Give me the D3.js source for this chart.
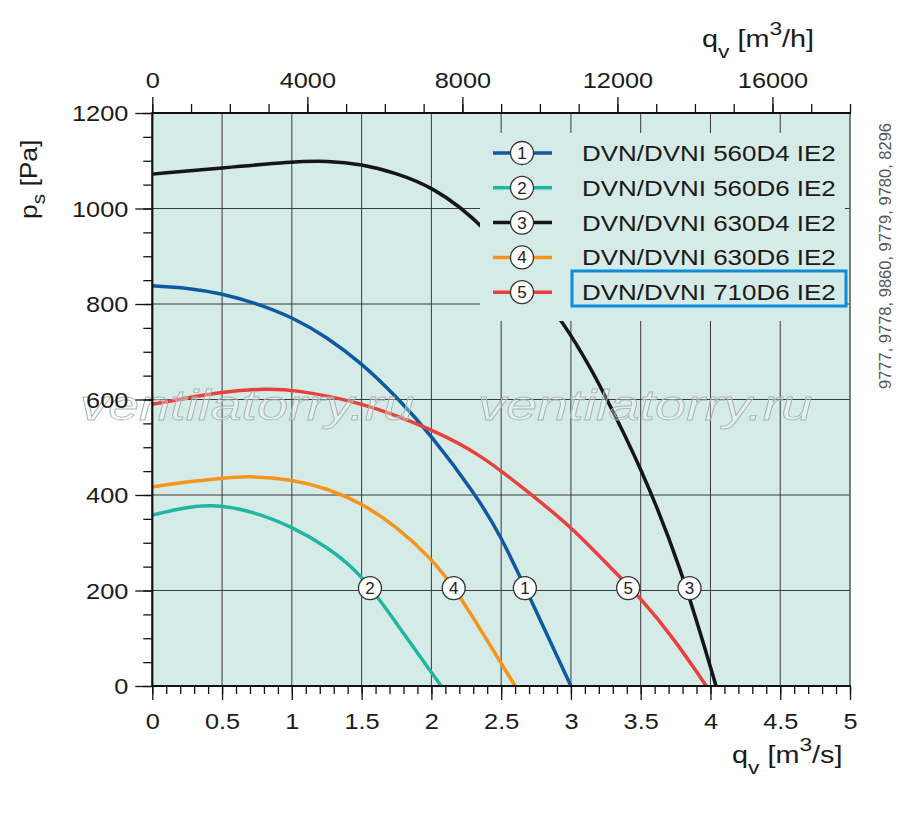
<!DOCTYPE html>
<html>
<head>
<meta charset="utf-8">
<script src="https://cdn.jsdelivr.net/npm/d3@7"></script>
<style>
  body { margin: 0; background: #fff; }
  svg text { font-family: "Liberation Sans", Arial, sans-serif; }
</style>
</head>
<body>
<svg id="chart" width="900" height="813"></svg>
<script>
// fan curves, q in m3/s, p in Pa
const curveNumbers = ["1", "2", "3", "4", "5"];
const curveNames = [
    "DVN/DVNI 560D4 IE2",
    "DVN/DVNI 560D6 IE2",
    "DVN/DVNI 630D4 IE2",
    "DVN/DVNI 630D6 IE2",
    "DVN/DVNI 710D6 IE2"
];
const q1 = [0, 0.25, 0.5, 0.75, 1.0, 1.25, 1.5, 1.75, 2.0, 2.32, 2.5, 2.68, 3.0];
const p1 = [838, 834, 822, 801, 773, 731, 676, 606, 525, 400, 313, 201, 0];
const q2 = [0, 0.2, 0.42, 0.7, 1.0, 1.25, 1.5, 1.8, 2.07];
const p2 = [358, 372, 381, 368, 334, 292, 236, 110, 0];
const q3 = [0, 0.5, 1.0, 1.25, 1.5, 1.75, 2.0, 2.35, 2.97, 3.25, 3.5, 3.78, 4.04];
const p3 = [1072, 1085, 1098, 1100, 1093, 1074, 1046, 976, 761, 606, 459, 257, 0];
const q4 = [0, 0.25, 0.5, 0.68, 1.0, 1.25, 1.5, 1.75, 2.0, 2.16, 2.37, 2.6];
const p4 = [417, 428, 435, 440, 433, 414, 383, 334, 267, 208, 110, 0];
const q5 = [0, 0.25, 0.5, 0.82, 1.0, 1.5, 2.0, 2.35, 2.72, 3.0, 3.3, 3.49, 3.73, 3.97];
const p5 = [590, 603, 616, 623, 621, 595, 538, 486, 400, 334, 243, 187, 103, 0];

const curveQ = [q1, q2, q3, q4, q5];
const curveP = [p1, p2, p3, p4, p5];
const labelQ = [2.67, 1.56, 3.85, 2.16, 3.41];
const labelP = 205;

const flowTicks = [0, 0.5, 1, 1.5, 2, 2.5, 3, 3.5, 4, 4.5, 5];
const pressureTicks = [0, 200, 400, 600, 800, 1000, 1200];
const hourTicks = [0, 4000, 8000, 12000, 16000];
const sideNote = "9777, 9778, 9860, 9779, 9780, 8296";
const watermark = "ventilatorry.ru";

const colors = ["#0e5aa0", "#1fb7a2", "#151515", "#f7941e", "#e8403a"];

function drawChart() {
    const svg = d3.select("#chart");
    const SX = 1.15; // the source font is a bit wider than Arial
    const bg = "#d5ebe7";

    const x = d3.scaleLinear().domain([0, 5]).range([152.3, 850]);
    const y = d3.scaleLinear().domain([0, 1200]).range([686, 113]);
    const xh = d3.scaleLinear().domain([0, 18000]).range([152.3, 850]);

    svg.append("rect")
        .attr("x", x(0)).attr("y", y(1200))
        .attr("width", x(5) - x(0)).attr("height", y(0) - y(1200))
        .attr("fill", bg);

    //grid
    const grid = svg.append("g").attr("stroke", "#3a3a3a").attr("stroke-width", 1);
    grid.selectAll("line.v")
        .data(flowTicks.filter(d => d > 0 && d < 5))
        .join("line").attr("class", "v")
        .attr("x1", d => x(d)).attr("x2", d => x(d))
        .attr("y1", y(1200)).attr("y2", y(0));
    grid.selectAll("line.h")
        .data(pressureTicks.filter(d => d > 0 && d < 1200))
        .join("line").attr("class", "h")
        .attr("x1", x(0)).attr("x2", x(5))
        .attr("y1", d => y(d)).attr("y2", d => y(d));

    //curves
    const line = d3.line()
        .x(d => x(d[0]))
        .y(d => y(d[1]))
        .curve(d3.curveBasis);
    curveQ.forEach((qs, i) => {
        const pts = qs.map((q, j) => [q, curveP[i][j]]);
        svg.append("path")
            .attr("d", line(pts))
            .attr("fill", "none")
            .attr("stroke", colors[i])
            .attr("stroke-width", 3.5);
    });

    //legend box hides the grid behind it
    svg.append("rect")
        .attr("x", 480).attr("y", 133)
        .attr("width", 365).attr("height", 188)
        .attr("fill", bg);

    const rowY = i => 153 + i * 34.8;
    const legend = svg.selectAll("g.legend")
        .data(curveNames)
        .join("g")
        .attr("class", "legend")
        .attr("transform", (d, i) => `translate(0, ${rowY(i)})`);
    legend.append("line")
        .attr("x1", 493).attr("x2", 552)
        .attr("stroke", (d, i) => colors[i])
        .attr("stroke-width", 3.5);
    legend.append("circle")
        .attr("cx", 522).attr("r", 11.5)
        .attr("fill", "#fff").attr("stroke", "#333").attr("stroke-width", 1.3);
    legend.append("text")
        .attr("x", 522).attr("y", 6)
        .attr("text-anchor", "middle")
        .attr("font-size", 17)
        .attr("fill", "#222")
        .text((d, i) => curveNumbers[i]);
    legend.append("text")
        .attr("transform", `translate(582, 8) scale(1.18,1)`)
        .attr("font-size", 22)
        .attr("fill", "#1a1a1a")
        .text(d => d);

    //labels on the curves
    const tags = svg.selectAll("g.tag")
        .data(labelQ)
        .join("g")
        .attr("class", "tag")
        .attr("transform", d => `translate(${x(d)}, ${y(labelP)})`);
    tags.append("circle")
        .attr("r", 11.5)
        .attr("fill", "#fff").attr("stroke", "#333").attr("stroke-width", 1.3);
    tags.append("text")
        .attr("y", 6)
        .attr("text-anchor", "middle")
        .attr("font-size", 17)
        .attr("fill", "#222")
        .text((d, i) => curveNumbers[i]);

    //watermark
    [80, 478].forEach(wx => {
        svg.append("text")
            .attr("transform", `translate(${wx}, 420) scale(1.3,1)`)
            .attr("font-size", 43)
            .attr("font-style", "italic")
            .attr("fill", "#ffffff").attr("fill-opacity", 0.3)
            .attr("stroke", "#a9b3b2").attr("stroke-width", 0.8)
            .text(watermark);
    });

    //axes
    const bottomMinor = d3.axisBottom(x).tickValues(d3.range(51).map(i => i / 10)).tickSize(8).tickFormat("");
    const bottomMajor = d3.axisBottom(x).tickValues(flowTicks).tickSize(14).tickFormat(d3.format(""));
    const leftMinor = d3.axisLeft(y).tickValues(d3.range(25).map(i => i * 50)).tickSize(9).tickFormat("");
    const leftMajor = d3.axisLeft(y).tickValues(pressureTicks).tickSize(17).tickFormat(d3.format("d"));
    const topMinor = d3.axisTop(xh).tickValues(d3.range(19).map(i => i * 1000)).tickSize(9).tickFormat("");
    const topMajor = d3.axisTop(xh).tickValues(hourTicks).tickSize(16).tickFormat(d3.format("d"));

    function styleAxis(g) {
        g.select(".domain").remove();
        g.selectAll("line").attr("stroke", "#111").attr("stroke-width", 1.3);
        g.attr("font-family", null).attr("font-size", 22);
        g.selectAll("text").attr("fill", "#1a1a1a").attr("transform", `scale(${SX},1)`);
    }

    svg.append("g").attr("transform", `translate(0, ${y(0)})`).call(bottomMinor).call(styleAxis);
    svg.append("g").attr("transform", `translate(0, ${y(0)})`).call(bottomMajor).call(styleAxis)
        .selectAll("text").attr("y", 43).attr("dy", null);
    svg.append("g").attr("transform", `translate(${x(0)}, 0)`).call(leftMinor).call(styleAxis);
    svg.append("g").attr("transform", `translate(${x(0)}, 0)`).call(leftMajor).call(styleAxis)
        .selectAll("text").attr("x", -24 / SX).attr("dy", "0.36em");
    svg.append("g").attr("transform", `translate(0, ${y(1200)})`).call(topMinor).call(styleAxis);
    svg.append("g").attr("transform", `translate(0, ${y(1200)})`).call(topMajor).call(styleAxis)
        .selectAll("text").attr("y", -25).attr("dy", null);

    //frame
    svg.append("line")
        .attr("x1", x(5)).attr("x2", x(5)).attr("y1", y(1200)).attr("y2", y(0))
        .attr("stroke", "#555").attr("stroke-width", 1.5);
    svg.append("line")
        .attr("x1", x(0) - 1).attr("x2", x(5) + 1).attr("y1", y(0)).attr("y2", y(0))
        .attr("stroke", "#111").attr("stroke-width", 2.2);
    svg.append("line")
        .attr("x1", x(0) - 1).attr("x2", x(5) + 1).attr("y1", y(1200)).attr("y2", y(1200))
        .attr("stroke", "#111").attr("stroke-width", 2.2);
    svg.append("line")
        .attr("x1", x(0)).attr("x2", x(0)).attr("y1", y(1200)).attr("y2", y(0))
        .attr("stroke", "#111").attr("stroke-width", 2.2);

    //axis titles
    const bottomTitle = svg.append("text")
        .attr("transform", `translate(732, 763) scale(1.2,1)`)
        .attr("font-size", 24).attr("fill", "#1a1a1a");
    bottomTitle.append("tspan").text("q");
    bottomTitle.append("tspan").attr("dy", 11).attr("font-size", 19).text("v");
    bottomTitle.append("tspan").attr("dy", -11).text(" [m");
    bottomTitle.append("tspan").attr("dy", -12).attr("font-size", 19).text("3");
    bottomTitle.append("tspan").attr("dy", 12).text("/s]");

    const topTitle = svg.append("text")
        .attr("transform", `translate(702, 47) scale(1.2,1)`)
        .attr("font-size", 24).attr("fill", "#1a1a1a");
    topTitle.append("tspan").text("q");
    topTitle.append("tspan").attr("dy", 11).attr("font-size", 19).text("v");
    topTitle.append("tspan").attr("dy", -11).text("  [m");
    topTitle.append("tspan").attr("dy", -12).attr("font-size", 19).text("3");
    topTitle.append("tspan").attr("dy", 12).text("/h]");

    const leftTitle = svg.append("text")
        .attr("transform", `translate(37, 219) rotate(-90) scale(${SX},1)`)
        .attr("font-size", 23).attr("fill", "#1a1a1a");
    leftTitle.append("tspan").text("p");
    leftTitle.append("tspan").attr("dy", 8).attr("font-size", 18).text("s");
    leftTitle.append("tspan").attr("dy", -8).text(" [Pa]");

    svg.append("text")
        .attr("transform", "translate(891, 256) rotate(-90)")
        .attr("text-anchor", "middle")
        .attr("font-size", 16.5)
        .attr("fill", "#555")
        .text(sideNote);

    //highlighted model
    svg.append("rect")
        .attr("x", 572).attr("y", 271)
        .attr("width", 274).attr("height", 35)
        .attr("fill", "none")
        .attr("stroke", "#0a8ddb").attr("stroke-width", 3);
}

drawChart();
</script>
</body>
</html>
